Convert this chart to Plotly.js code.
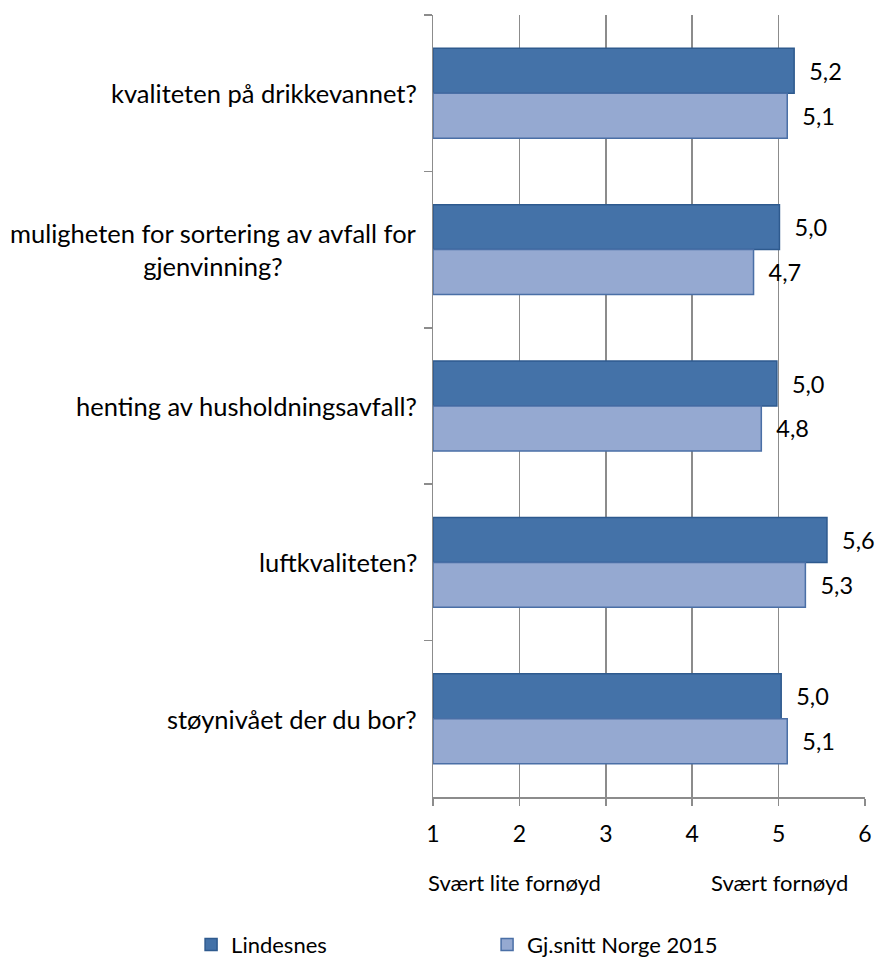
<!DOCTYPE html>
<html>
<head>
<meta charset="utf-8">
<script src="https://cdn.plot.ly/plotly-3.0.1.min.js"></script>
<style>
html,body{margin:0;padding:0;background:#fff;}
#chart{width:877px;height:963px;}
</style>
</head>
<body>
<div id="chart"></div>
<script>
var categories = [
  "kvaliteten på drikkevannet?",
  "muligheten for sortering av avfall for<br>gjenvinning?",
  "henting av husholdningsavfall?",
  "luftkvaliteten?",
  "støynivået der du bor?"
];
var seriesNames = ["Lindesnes", "Gj.snitt Norge 2015"];
var lindesnes = [5.18, 5.01, 4.98, 5.56, 5.03];
var norge = [5.10, 4.71, 4.80, 5.31, 5.10];
var xTicks = [1, 2, 3, 4, 5, 6];
var scaleLabels = ["Svært lite fornøyd", "Svært fornøyd"];

var FONT = "Lato, 'Open Sans', sans-serif";
function fmt(v){ return "\u00a0\u00a0" + v.toFixed(1).replace(".", ","); }

var traces = [
  {
    type: "bar", orientation: "h", name: seriesNames[0],
    y: categories, x: lindesnes.map(function(v){return v - 1;}), base: 1,
    text: lindesnes.map(fmt), textposition: "outside", cliponaxis: false,
    textfont: {family: FONT, size: 23.5, color: "#000"},
    marker: {color: "#4472A8", line: {color: "#2E5A8E", width: 1.5}},
    hoverinfo: "skip"
  },
  {
    type: "bar", orientation: "h", name: seriesNames[1],
    y: categories, x: norge.map(function(v){return v - 1;}), base: 1,
    text: norge.map(fmt), textposition: "outside", cliponaxis: false,
    textfont: {family: FONT, size: 23.5, color: "#000"},
    marker: {color: "#95A9D1", line: {color: "#4A6FA6", width: 1.5}},
    hoverinfo: "skip"
  }
];

var annotations = categories.map(function(c){
  return {
    xref: "paper", yref: "y", x: 0, y: c, xanchor: "right", yanchor: "middle",
    xshift: -14, text: c, showarrow: false, align: "center",
    font: {family: FONT, size: 25.5, color: "#000"}
  };
});
annotations.push({
  xref: "paper", yref: "paper", x: 0, y: 0, xanchor: "left", yanchor: "middle",
  xshift: -7, yshift: -85, text: scaleLabels[0], showarrow: false,
  font: {family: FONT, size: 22, color: "#000"}
});
annotations.push({
  xref: "paper", yref: "paper", x: 1, y: 0, xanchor: "right", yanchor: "middle",
  xshift: -15, yshift: -85, text: scaleLabels[1], showarrow: false,
  font: {family: FONT, size: 22, color: "#000"}
});

var layout = {
  width: 877, height: 963,
  margin: {l: 433, r: 12, t: 15, b: 166, autoexpand: false},
  paper_bgcolor: "#fff", plot_bgcolor: "#fff",
  barmode: "group", bargap: 0.425, bargroupgap: 0,
  showlegend: true,
  font: {family: FONT, color: "#000"},
  xaxis: {
    range: [1, 6], tickvals: xTicks, ticktext: xTicks.map(String),
    showgrid: true, gridcolor: "#8C8C8C", gridwidth: 1.5,
    showline: true, linecolor: "#8C8C8C", linewidth: 1.5,
    ticks: "outside", ticklen: 7, tickcolor: "#8C8C8C", tickwidth: 1.5,
    ticklabelstandoff: 9,
    tickfont: {family: FONT, size: 23, color: "#000"},
    zeroline: false, fixedrange: true
  },
  yaxis: {
    type: "category", categoryorder: "array", categoryarray: categories,
    autorange: "reversed",
    showticklabels: false, tickson: "boundaries",
    ticks: "outside", ticklen: 8, tickcolor: "#8C8C8C", tickwidth: 1.5,
    showline: true, linecolor: "#8C8C8C", linewidth: 1.5,
    showgrid: false, zeroline: false, fixedrange: true
  },
  legend: {
    orientation: "h", x: -0.56, xanchor: "left", y: -0.189, yanchor: "middle",
    yref: "paper", xref: "paper",
    entrywidth: 251, entrywidthmode: "pixels",
    font: {family: FONT, size: 22, color: "#000"},
    traceorder: "normal", itemclick: false, itemdoubleclick: false
  },
  annotations: annotations
};

Plotly.newPlot("chart", traces, layout, {displayModeBar: false, staticPlot: true});
</script>
</body>
</html>
